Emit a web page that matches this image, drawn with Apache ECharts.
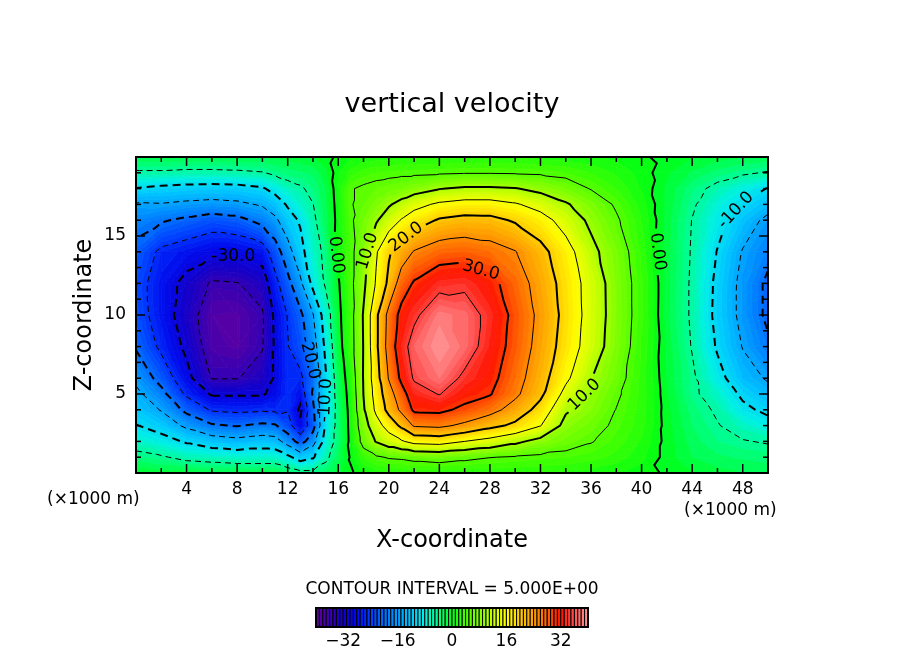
<!DOCTYPE html>
<html><head><meta charset="utf-8">
<script src="https://cdn.jsdelivr.net/npm/echarts@6/dist/echarts.min.js"></script>
<style>html,body{margin:0;padding:0;background:#fff}#c{width:904px;height:654px}</style>
</head><body><div id="c"></div>
<script>
// ---------------- data ----------------
const xNodes = [0,2,4,6,8,10,11,12,13,14,15,16,17,18,19,20,21,22,24,26,28,30,32,34,36,38,40,42,44,46,48,50];
const zNodes = [0,1,2,3,4,5,6,8,10,12,14,16,17,18,19,20];
const w_z00 = [-1,-1.5,-1.5,-1.8,-2,-2,-2,-3,-4,-4,-3,-1.5,-0.3,1,1.5,1.8,2,2.2,2.2,2.2,2.2,2.1,2,1.8,1.5,1.1,0.5,-0.2,-1,-1.6,-2,-2.3];
const w_z01 = [-3.8,-4.6,-6,-6.5,-7,-7,-7,-9,-12,-10.5,-6,-2.5,0.3,3,4.5,5.3,5.5,6,6.5,5.8,5.1,4.7,4.3,4,3.5,2.6,1.3,-0.5,-2,-2.8,-3.2,-3.5];
const w_z02 = [-6.8,-8.3,-10.5,-12.5,-13.5,-12.5,-13,-17,-22,-17,-8,-3.5,0.8,6.5,10.3,12.5,14.5,16.5,17,15,13.3,11,8.5,6.5,5.2,3.6,1.9,-0.5,-2.5,-4,-4.8,-5.3];
const w_z03 = [-9.8,-11.8,-16,-19.4,-20.3,-19,-19.5,-23,-29,-22,-9.5,-3.5,1,8,13,17,21,25.5,26,24,21.4,19,15.2,8.5,6.5,4.3,2.4,-0.6,-3,-4.8,-6.5,-8.3];
const w_z04 = [-12,-15.3,-21.3,-25.5,-26,-25.6,-25.8,-25.3,-31,-21,-9.8,-3.5,1.2,9.5,16,21.5,26,30.8,31,29,26.7,23,18.3,10.6,8,4.9,2.5,-0.7,-3.5,-5.5,-9,-11];
const w_z05 = [-13.8,-18.5,-25.8,-30.5,-30.5,-30.5,-28.5,-25.5,-28,-19.5,-10.2,-3,1.5,10.1,17,23,28,33,35.2,31.7,30.3,26,21,13.5,9,5.6,2.6,-0.9,-4.3,-6.8,-10.8,-13.5];
const w_z06 = [-16.2,-21.8,-28.5,-35.2,-35.2,-33,-29.5,-25.5,-26,-20.5,-10.5,-2.5,2,10.3,18,25.3,31,35.5,38,34,31.5,27,22,16,10.2,6.5,2.6,-1.1,-4.4,-8.5,-13,-15.5];
const w_z08 = [-20.5,-26,-31,-37.5,-38.3,-35.3,-29.3,-25.2,-22.5,-17.5,-9,-1.5,3.3,10.2,19,27,33,37,40,37.5,32.8,28.3,23.2,18,12.6,7.6,2.9,-1.3,-5.2,-10.5,-15.2,-19.2];
const w_z10 = [-22.5,-27.5,-32.5,-38,-38.3,-35.5,-29,-24.8,-21,-15.3,-7.5,-1,3.5,10.4,19,26.5,31.5,34,38.5,37.5,33.5,28.7,23.8,18.6,13,7.9,3.2,-1.7,-5.5,-11.2,-16.3,-21];
const w_z12 = [-23,-27.5,-31.5,-35.6,-35.2,-33,-26.5,-21.5,-16,-8.7,-4.5,-0.4,4,9,15.5,21,27.5,30.5,33.5,34,31.5,27.5,23,18.2,12.9,7.8,3.2,-1.6,-5.5,-11,-16.3,-21];
const w_z14 = [-21.5,-26,-27.5,-29,-29,-27.5,-22.5,-17,-11.5,-7,-4,1,4,8,14.5,19.5,22.5,25.3,27.5,28,27,25.2,21.5,17,11.3,7.2,2.7,-1.6,-5.3,-10.2,-15.3,-18.5];
const w_z16 = [-18,-19.5,-21,-22.5,-21.5,-18.5,-16,-12,-9.5,-5.8,-2.5,0.8,4.5,7,9.5,12.5,15.3,17.5,20.5,21.5,21.3,19.5,17,13,9,5.5,2,-1.4,-5.1,-8.5,-12.5,-16.2];
const w_z17 = [-15.5,-15.3,-16,-16.5,-16,-14.5,-12.5,-9.5,-7,-5.1,-2.3,1,4.8,6,7.5,9.5,11.5,13.5,15.8,16.8,16.8,15.5,13.2,10.5,7.5,4.5,1.5,-1.3,-4.5,-7.5,-10.2,-13];
const w_z18 = [-10.2,-11,-11.5,-11.7,-11.5,-10.5,-8.5,-6.5,-5.5,-4,-2,1.2,4.8,5.5,6,6.5,7,8,9.8,10.6,10.6,10.2,8.8,7,4.8,3,0.9,-1.2,-3.8,-6,-8,-10.2];
const w_z19 = [-5.5,-5.5,-5.8,-5.8,-5.6,-5.2,-4.3,-3.6,-3.2,-2.8,-1.3,0.8,2.5,3.5,4,4.2,4.4,4.4,4.6,4.8,4.8,4.7,4.5,4,3,1.8,0.6,-0.8,-2.2,-3.5,-4.5,-5.3];
const w_z20 = [-2,-2,-2,-2,-2,-2,-1.8,-1.5,-1.2,-1,-0.5,0.3,1,1.3,1.5,1.5,1.6,1.7,1.8,1.8,1.8,1.8,1.6,1.4,1.1,0.7,0.2,-0.4,-1,-1.5,-2,-2.2];
const wRows = [w_z00,w_z01,w_z02,w_z03,w_z04,w_z05,w_z06,w_z08,w_z10,w_z12,w_z14,w_z16,w_z17,w_z18,w_z19,w_z20];

const contourLevels = [-35,-30,-25,-20,-15,-10,-5,0,5,10,15,20,25,30,35];
const thickLevels = [-30,-20,-10,0,10,20,30];
// label anchors: [x (km), z (km), contour level]
const contourLabels = [[7.7,13.6,-30],[13.8,7.3,-20],[15.1,4.6,-10],[15.9,13.8,0],[18.5,14.0,10],[21.3,15.0,20],[27.2,12.6,30],[35.4,5.0,10],[41.3,14.0,0],[47.9,16.3,-10]];
const colorbarTicks = [-32,-16,0,16,32];
const xRange = [0,50], zRange = [0,20];
const xMajorStep = 4, xMinorStep = 2, zMajorStep = 5, zMinorStep = 1;
const fillMin = -40, fillMax = 40;   // colour scale range, 1-unit bands
const titleText = 'vertical velocity';
const intervalText = 'CONTOUR INTERVAL = 5.000E+00';

// ---------------- styles ----------------
const FONT = 'DejaVu Sans';
const cmapStops = [
  [-40,[100,0,160]],[-36,[60,0,175]],[-32,[20,0,200]],[-28,[0,10,235]],[-24,[0,60,255]],
  [-20,[0,110,255]],[-16,[0,155,255]],[-12,[0,200,255]],[-8,[0,240,230]],[-4,[0,255,130]],
  [0,[0,255,20]],[4,[70,255,0]],[8,[130,255,0]],[12,[200,255,0]],[16,[255,255,0]],
  [20,[255,205,0]],[24,[255,155,0]],[28,[255,95,0]],[32,[255,20,0]],[36,[255,80,80]],[40,[255,150,150]]
];
function cmap(v){
  if (v <= cmapStops[0][0]) return cmapStops[0][1];
  for (let k=0;k<cmapStops.length-1;k++){
    const [a,ca]=cmapStops[k],[b,cb]=cmapStops[k+1];
    if (v<=b){ const t=(v-a)/(b-a); return [0,1,2].map(i=>Math.round(ca[i]+t*(cb[i]-ca[i]))); }
  }
  return cmapStops[cmapStops.length-1][1];
}
function bandColor(k){
  k=Math.max(fillMin,Math.min(fillMax-1,k));
  const c=cmap(k+0.5); return 'rgb('+c[0]+','+c[1]+','+c[2]+')';
}

// ---------------- geometry helpers ----------------
const nx=xNodes.length, nz=zNodes.length;
function node(i,j){ return {id:j*nx+i, x:xNodes[i], z:zNodes[j], v:wRows[j][i]}; }
function cellTris(i,j){
  const a=node(i,j), b=node(i+1,j), c=node(i+1,j+1), d=node(i,j+1);
  if (Math.abs(a.v-c.v) <= Math.abs(b.v-d.v)) return [[a,b,c],[a,c,d]];
  return [[a,b,d],[b,c,d]];
}
function clipPoly(poly, level, keepAbove){
  const out=[]; const n=poly.length;
  for (let k=0;k<n;k++){
    const P=poly[k], Q=poly[(k+1)%n];
    const pin = keepAbove ? P.v>=level : P.v<=level;
    const qin = keepAbove ? Q.v>=level : Q.v<=level;
    if (pin) out.push(P);
    if (pin!==qin){ const t=(level-P.v)/(Q.v-P.v); out.push({x:P.x+t*(Q.x-P.x), z:P.z+t*(Q.z-P.z), v:level}); }
  }
  return out;
}
const contourLines = {};
contourLevels.forEach(L=>{
  const lev=L+1e-6; const segs=[];
  for (let j=0;j<nz-1;j++) for (let i=0;i<nx-1;i++){
    cellTris(i,j).forEach(t=>{
      const pts=[];
      for (let e=0;e<3;e++){
        const p=t[e], q=t[(e+1)%3];
        if ((p.v-lev)*(q.v-lev)<0){
          const s=(lev-p.v)/(q.v-p.v);
          pts.push({key:Math.min(p.id,q.id)+'_'+Math.max(p.id,q.id), x:p.x+s*(q.x-p.x), z:p.z+s*(q.z-p.z)});
        }
      }
      if (pts.length===2) segs.push(pts);
    });
  }
  const map=new Map();
  segs.forEach((s,idx)=>s.forEach(p=>{ if(!map.has(p.key)) map.set(p.key,[]); map.get(p.key).push(idx); }));
  const used=new Array(segs.length).fill(false);
  const lines=[];
  function extend(line){
    while(true){
      const last=line[line.length-1];
      const cand=(map.get(last.key)||[]).find(idx=>!used[idx]);
      if (cand===undefined) break;
      used[cand]=true;
      const s=segs[cand];
      line.push(s[0].key===last.key ? s[1] : s[0]);
    }
  }
  for (let s0=0;s0<segs.length;s0++){
    if (used[s0]) continue;
    used[s0]=true;
    let line=[segs[s0][0],segs[s0][1]];
    extend(line); line.reverse(); extend(line);
    lines.push(line);
  }
  contourLines[L]=lines;
});
function cutLine(pts, circles){
  const pieces=[]; let cur=null;
  for (let k=0;k<pts.length-1;k++){
    const A=pts[k], B=pts[k+1];
    const dx=B[0]-A[0], dy=B[1]-A[1];
    const removed=[];
    circles.forEach(c=>{
      const a=dx*dx+dy*dy; if (a<1e-9) return;
      const fx=A[0]-c[0], fy=A[1]-c[1];
      const b=2*(fx*dx+fy*dy), cc=fx*fx+fy*fy-c[2]*c[2];
      const disc=b*b-4*a*cc; if (disc<=0) return;
      const sq=Math.sqrt(disc); const t1=(-b-sq)/(2*a), t2=(-b+sq)/(2*a);
      if (t2<=0||t1>=1) return;
      removed.push([Math.max(0,t1),Math.min(1,t2)]);
    });
    removed.sort((p,q)=>p[0]-q[0]);
    const kept=[]; let s=0;
    removed.forEach(r=>{ if (r[0]>s) kept.push([s,r[0]]); s=Math.max(s,r[1]); });
    if (s<1) kept.push([s,1]);
    const lerp=t=>[A[0]+t*dx, A[1]+t*dy];
    if (!kept.length){ if (cur&&cur.length>1) pieces.push(cur); cur=null; continue; }
    kept.forEach(([s0,e0])=>{
      if (s0>0||!cur){ if (cur&&cur.length>1) pieces.push(cur); cur=[lerp(s0)]; }
      cur.push(lerp(e0));
      if (e0<1){ if (cur.length>1) pieces.push(cur); cur=null; }
    });
  }
  if (cur&&cur.length>1) pieces.push(cur);
  return pieces;
}
function labelText(L){ return L===0 ? '0.00' : L.toFixed(1); }

// ---------------- series data ----------------
const cellData=[];
for (let j=0;j<nz-1;j++) for (let i=0;i<nx-1;i++)
  cellData.push([(xNodes[i]+xNodes[i+1])/2,(zNodes[j]+zNodes[j+1])/2,i,j]);
const bandData=[];
for (let k=fillMin;k<fillMax;k++) bandData.push([k+0.5,0.5,k]);

const LABEL_FONT=17, TICK_FONT=17;
const axisLineStyle={show:true,onZero:false,lineStyle:{color:'#000',width:2}};

const option={
  animation:false,
  backgroundColor:'#fff',
  title:[
    {text:titleText,left:'center',top:86,textStyle:{fontFamily:FONT,fontSize:27,fontWeight:'normal',color:'#000'}},
    {text:intervalText,left:'center',top:576,textStyle:{fontFamily:FONT,fontSize:17,fontWeight:'normal',color:'#000'}}
  ],
  grid:[{left:136,right:136,top:157,bottom:181},{left:316,right:316,top:608,bottom:27}],
  xAxis:[
    {type:'value',gridIndex:0,min:xRange[0],max:xRange[1],interval:xMajorStep,position:'bottom',z:10,axisLine:axisLineStyle,axisTick:{show:false},
     axisLabel:{fontFamily:FONT,fontSize:TICK_FONT,color:'#000',margin:8,formatter:v=>(v>xRange[0]&&v<xRange[1])?String(v):''},splitLine:{show:false},
     name:'X-coordinate',nameLocation:'middle',nameGap:56,nameMoveOverlap:false,nameTextStyle:{fontFamily:FONT,fontSize:24,color:'#000'}},
    {type:'value',gridIndex:0,min:xRange[0],max:xRange[1],interval:xMajorStep,position:'top',z:10,axisLine:axisLineStyle,axisTick:{show:false},axisLabel:{show:false},splitLine:{show:false}},
    {type:'value',gridIndex:1,min:fillMin,max:fillMax,position:'bottom',z:10,axisLine:{show:false},axisTick:{show:false},splitLine:{show:false},
     axisLabel:{customValues:colorbarTicks,fontFamily:FONT,fontSize:TICK_FONT,color:'#000',margin:6,formatter:v=>String(v).replace('-','\u2212')}}
  ],
  yAxis:[
    {type:'value',gridIndex:0,min:zRange[0],max:zRange[1],interval:zMajorStep,position:'left',z:10,axisLine:axisLineStyle,axisTick:{show:false},
     axisLabel:{fontFamily:FONT,fontSize:TICK_FONT,color:'#000',margin:10,formatter:v=>(v>zRange[0]&&v<zRange[1])?String(v):''},splitLine:{show:false},
     name:'Z-coordinate',nameLocation:'middle',nameGap:39,nameMoveOverlap:false,nameRotate:90,nameTextStyle:{fontFamily:FONT,fontSize:24,color:'#000'}},
    {type:'value',gridIndex:0,min:zRange[0],max:zRange[1],interval:zMajorStep,position:'right',z:10,axisLine:axisLineStyle,axisTick:{show:false},axisLabel:{show:false},splitLine:{show:false}},
    {type:'value',gridIndex:1,min:0,max:1,show:false}
  ],
  graphic:[
    {type:'text',left:47,top:491,style:{text:'(\u00d71000 m)',fontFamily:FONT,fontSize:17,fill:'#000'}},
    {type:'text',left:684,top:502,style:{text:'(\u00d71000 m)',fontFamily:FONT,fontSize:17,fill:'#000'}}
  ],
  series:[
    { // filled contour bands
      type:'custom',xAxisIndex:0,yAxisIndex:0,clip:true,z:2,silent:true,
      encode:{x:0,y:1},data:cellData,
      renderItem:function(params,api){
        const i=api.value(2), j=api.value(3);
        const children=[];
        cellTris(i,j).forEach(t=>{
          const vs=t.map(p=>p.v);
          const kmin=Math.floor(Math.min(...vs)), kmax=Math.floor(Math.max(...vs));
          for (let k=kmin;k<=kmax;k++){
            let poly=t;
            if (k>kmin) poly=clipPoly(poly,k,true);
            if (poly.length>=3 && k<kmax) poly=clipPoly(poly,k+1,false);
            if (poly.length<3) continue;
            const col=bandColor(k);
            children.push({type:'polygon',shape:{points:poly.map(p=>api.coord([p.x,p.z]))},style:{fill:col,stroke:col,lineWidth:0.8},silent:true});
          }
        });
        return {type:'group',children};
      }
    },
    { // contour lines + labels
      type:'custom',xAxisIndex:0,yAxisIndex:0,clip:true,z:3,silent:true,
      encode:{x:0,y:1},data:[[25,10]],
      renderItem:function(params,api){
        const pix={};
        contourLevels.forEach(L=>{ pix[L]=contourLines[L].map(line=>line.map(p=>api.coord([p.x,p.z]))); });
        const circles={}, texts=[];
        contourLabels.forEach(([lx,lz,L])=>{
          const a=api.coord([lx,lz]);
          let best=null, bd=Infinity;
          pix[L].forEach(line=>{
            for (let k=0;k<line.length-1;k++){
              const A=line[k],B=line[k+1];
              const dx=B[0]-A[0],dy=B[1]-A[1]; const l2=dx*dx+dy*dy||1e-9;
              let t=((a[0]-A[0])*dx+(a[1]-A[1])*dy)/l2; t=Math.max(0,Math.min(1,t));
              const px=A[0]+t*dx, py=A[1]+t*dy; const d=(px-a[0])**2+(py-a[1])**2;
              if (d<bd){ bd=d; best={p:[px,py],dx,dy}; }
            }
          });
          if (!best) return;
          let ang=Math.atan2(-best.dy,best.dx);
          if (ang>Math.PI/2) ang-=Math.PI;
          if (ang<=-Math.PI/2) ang+=Math.PI;
          const text=labelText(L);
          const r=text.length*LABEL_FONT*0.3+3;
          (circles[L]=circles[L]||[]).push([best.p[0],best.p[1],r]);
          texts.push({type:'text',x:best.p[0],y:best.p[1],rotation:ang,silent:true,
            style:{text:text,fontFamily:FONT,fontSize:LABEL_FONT,fill:'#000',align:'center',verticalAlign:'middle'}});
        });
        const children=[];
        contourLevels.forEach(L=>{
          const thick=thickLevels.indexOf(L)>=0;
          pix[L].forEach(line=>{
            cutLine(line,circles[L]||[]).forEach(pts=>{
              const style={stroke:'#000',fill:null,lineWidth:thick?2:1};
              if (L<0) style.lineDash=thick?[8,5]:[6,4];
              children.push({type:'polyline',shape:{points:pts},style:style,silent:true});
            });
          });
        });
        return {type:'group',children:children.concat(texts)};
      }
    },
    { // inward tick marks on all four sides of the plot frame
      type:'custom',xAxisIndex:0,yAxisIndex:0,clip:false,z:12,silent:true,
      encode:{x:0,y:1},data:[[25,10]],
      renderItem:function(params,api){
        const ch=[];
        const st={stroke:'#000',lineWidth:1.5};
        for (let v=xRange[0]+xMinorStep; v<xRange[1]; v+=xMinorStep){
          const len=(v%xMajorStep===0)?9:5;
          const b=api.coord([v,zRange[0]]), t=api.coord([v,zRange[1]]);
          ch.push({type:'line',shape:{x1:b[0],y1:b[1],x2:b[0],y2:b[1]-len},style:st});
          ch.push({type:'line',shape:{x1:t[0],y1:t[1],x2:t[0],y2:t[1]+len},style:st});
        }
        for (let v=zRange[0]+zMinorStep; v<zRange[1]; v+=zMinorStep){
          const len=(v%zMajorStep===0)?9:5;
          const l=api.coord([xRange[0],v]), r=api.coord([xRange[1],v]);
          ch.push({type:'line',shape:{x1:l[0],y1:l[1],x2:l[0]+len,y2:l[1]},style:st});
          ch.push({type:'line',shape:{x1:r[0],y1:r[1],x2:r[0]-len,y2:r[1]},style:st});
        }
        return {type:'group',children:ch};
      }
    },
    { // colour bar
      type:'custom',xAxisIndex:2,yAxisIndex:2,z:3,silent:true,
      encode:{x:0,y:1},data:bandData,
      renderItem:function(params,api){
        const k=api.value(2);
        const p1=api.coord([k,0]), p2=api.coord([k+1,1]);
        const children=[{type:'rect',shape:{x:p1[0],y:p2[1],width:p2[0]-p1[0],height:p1[1]-p2[1]},style:{fill:bandColor(k),stroke:'#000',lineWidth:1}}];
        if (k===fillMin){
          const q1=api.coord([fillMin,0]), q2=api.coord([fillMax,1]);
          children.push({type:'rect',shape:{x:q1[0],y:q2[1],width:q2[0]-q1[0],height:q1[1]-q2[1]},style:{fill:null,stroke:'#000',lineWidth:2},z2:5});
        }
        return {type:'group',children};
      }
    }
  ]
};
const chart=echarts.init(document.getElementById('c'),null,{renderer:'canvas'});
chart.setOption(option);
</script>
</body></html>
